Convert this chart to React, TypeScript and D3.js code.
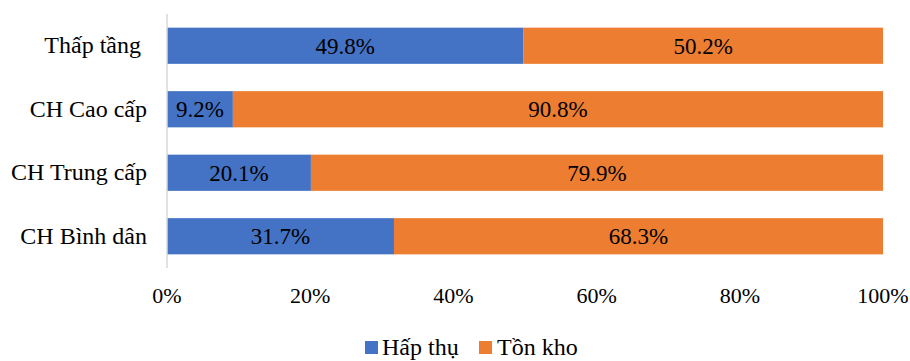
import React from "react";
import * as d3 from "d3";

// Cơ cấu hấp thụ / tồn kho theo phân khúc
const categories = ["Thấp tầng ", "CH Cao cấp", "CH Trung cấp", "CH Bình dân"];
const absorbed = [49.8, 9.2, 20.1, 31.7];
const inventory = [50.2, 90.8, 79.9, 68.3];
const seriesNames = ["Hấp thụ", "Tồn kho"];
const seriesColors = ["#4472C4", "#ED7D31"];
const tickValues = [0, 20, 40, 60, 80, 100];

const W = 910;
const H = 361;

export default function App() {
  const x = d3.scaleLinear().domain([0, 100]).range([167, 883]);
  const y = d3.scaleBand<string>().domain(categories).range([14, 268]).paddingInner(0.43).paddingOuter(0.215);

  const rows = categories.map((c, i) => ({ cat: c, vals: [absorbed[i], inventory[i]] }));

  return (
    <svg
      width={W}
      height={H}
      fontFamily="Liberation Serif"
      style={{ position: "absolute", left: 0, top: 0, background: "#fff", fontFamily: "Liberation Serif" }}
    >
      {rows.map((r) => {
        let acc = 0;
        return (
          <g key={r.cat}>
            {r.vals.map((v, j) => {
              const x0 = x(acc);
              acc += v;
              const x1 = x(acc);
              const yy = y(r.cat)!;
              return (
                <g key={j}>
                  <rect x={x0} y={yy} width={x1 - x0} height={y.bandwidth()} fill={seriesColors[j]} />
                  <text
                    x={(x0 + x1) / 2}
                    y={yy + y.bandwidth() / 2 + 8}
                    textAnchor="middle"
                    fontSize={23}
                    fill="#000"
                  >
                    {v.toFixed(1)}%
                  </text>
                </g>
              );
            })}
            <text
              x={147}
              y={y(r.cat)! + y.bandwidth() / 2 + 7.5}
              textAnchor="end"
              fontSize={24}
              fill="#000"
              style={{ whiteSpace: "pre" }}
            >
              {r.cat}
            </text>
          </g>
        );
      })}
      <line x1={x(0)} x2={x(0)} y1={14} y2={268} stroke="#D9D9D9" strokeWidth={1.5} />
      {tickValues.map((t) => (
        <text key={t} x={x(t)} y={303} textAnchor="middle" fontSize={22} fill="#000">
          {t}%
        </text>
      ))}
      <g>
        <rect x={365} y={341} width={13} height={13} fill={seriesColors[0]} />
        <text x={382} y={355} fontSize={24} fill="#000">
          {seriesNames[0]}
        </text>
        <rect x={479} y={341} width={13} height={13} fill={seriesColors[1]} />
        <text x={497} y={355} fontSize={24} fill="#000">
          {seriesNames[1]}
        </text>
      </g>
    </svg>
  );
}
